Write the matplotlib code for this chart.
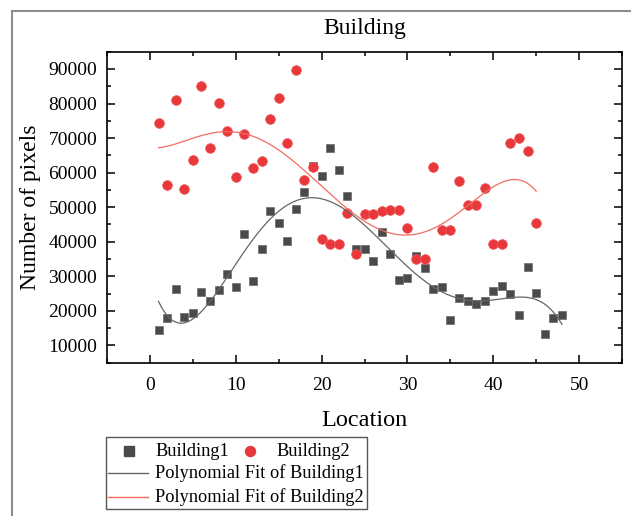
import numpy as np
import matplotlib.pyplot as plt
from matplotlib.lines import Line2D
from matplotlib.patches import Rectangle
from matplotlib.ticker import MultipleLocator

# --- data ---
loc1 = list(range(1, 49))
building1 = [14550, 17830, 26230, 18200, 19480, 25560, 22840, 26140, 30580, 26910,
             42260, 28550, 38020, 49040, 45450, 40140, 49400, 54350, 61800, 58900,
             67000, 60720, 53280, 38020, 38020, 34350, 42840, 36380, 28840, 29620,
             35800, 32520, 26320, 26900, 17250, 23830, 22750, 22070, 22840, 25740,
             27190, 24870, 18900, 32700, 25280, 13280, 17910, 18700]

loc2 = list(range(1, 46))
building2 = [74260, 56460, 81100, 55200, 63600, 85160, 67200, 80230, 71940, 58700,
             71070, 61390, 63330, 75420, 81590, 68460, 89800, 57900, 61680, 40720,
             39280, 39280, 48350, 36580, 48000, 48000, 48900, 49330, 49330, 44100,
             34930, 34930, 61600, 43330, 43330, 57450, 50580, 50580, 55600, 39480,
             39480, 68460, 70000, 66140, 45450]

fit_order1 = 5
fit_order2 = 5

W, H = 631, 516
fig = plt.figure(figsize=(W / 100, H / 100), dpi=100)
plt.rcParams['font.family'] = ['Liberation Serif', 'DejaVu Serif']


def px(x, y):
    # pixel position (from top-left) -> figure fraction
    return x / W, 1 - y / H


ax = fig.add_axes([107 / W, 1 - 362.7 / H, (622 - 107) / W, (362.7 - 51.7) / H])

black = '#4a4a4a'
red = '#e8383c'

# polynomial fits
c1 = np.polyfit(loc1, building1, fit_order1)
c2 = np.polyfit(loc2, building2, fit_order2)
xs1 = np.linspace(min(loc1), max(loc1), 300)
xs2 = np.linspace(min(loc2), max(loc2), 300)
ax.plot(xs1, np.polyval(c1, xs1), color='#666666', lw=0.9, zorder=3)
ax.plot(xs2, np.polyval(c2, xs2), color='#f26b5f', lw=0.9, zorder=3)

ax.plot(loc1, building1, 's', color=black, mec='#6a6a6a', mew=0.5, ms=6.2, zorder=2)
ax.plot(loc2, building2, 'o', color=red, mec='#f05a5a', mew=0.5, ms=7, zorder=2)

ax.set_xlim(-5, 55)
ax.set_ylim(5000, 95000)
ax.xaxis.set_major_locator(MultipleLocator(10))
ax.xaxis.set_minor_locator(MultipleLocator(5))
ax.yaxis.set_major_locator(MultipleLocator(10000))
ax.yaxis.set_minor_locator(MultipleLocator(5000))
ax.tick_params(which='both', direction='in', top=True, right=True, width=1.1,
               labelsize=14, colors='black', pad=7)
ax.tick_params(axis='x', which='both', pad=10)
ax.tick_params(which='major', length=6)
ax.tick_params(which='minor', length=3)
for s in ax.spines.values():
    s.set_linewidth(1.2)

ax.set_title('Building', fontsize=17, pad=13)
ax.set_xlabel('Location', fontsize=17.5, labelpad=12)
ax.set_ylabel('Number of pixels', fontsize=17, labelpad=5)

# outer frame
fig.add_artist(Rectangle(px(12, 540), 700 / W, 529 / H, transform=fig.transFigure,
                         fill=False, edgecolor='#8c8c8c', lw=1.5))

# legend (Origin style: two markers on the first row, fits below)
x0, y0 = px(106, 509)
x1, y1 = px(367, 437)
fig.add_artist(Rectangle((x0, y0), x1 - x0, y1 - y0, transform=fig.transFigure,
                         fill=False, edgecolor='#555555', lw=1.0))
lfs = 13.2
mx, my = px(129, 451)
fig.add_artist(Line2D([mx], [my], marker='s', color=black, ms=6.5, ls='none',
                      transform=fig.transFigure))
fig.text(*px(155, 451), 'Building1', fontsize=lfs, va='center')
mx, my = px(250, 451)
fig.add_artist(Line2D([mx], [my], marker='o', color=red, ms=7.2, ls='none',
                      transform=fig.transFigure))
fig.text(*px(276, 451), 'Building2', fontsize=lfs, va='center')
for yy, col, lab in [(473, '#666666', 'Polynomial Fit of Building1'),
                     (497, '#f26b5f', 'Polynomial Fit of Building2')]:
    a, b = px(108, yy)
    c, _ = px(148, yy)
    fig.add_artist(Line2D([a, c], [b, b], color=col, lw=1.0, transform=fig.transFigure))
    fig.text(*px(155, yy), lab, fontsize=lfs, va='center')

fig.savefig('out.png', dpi=100)
